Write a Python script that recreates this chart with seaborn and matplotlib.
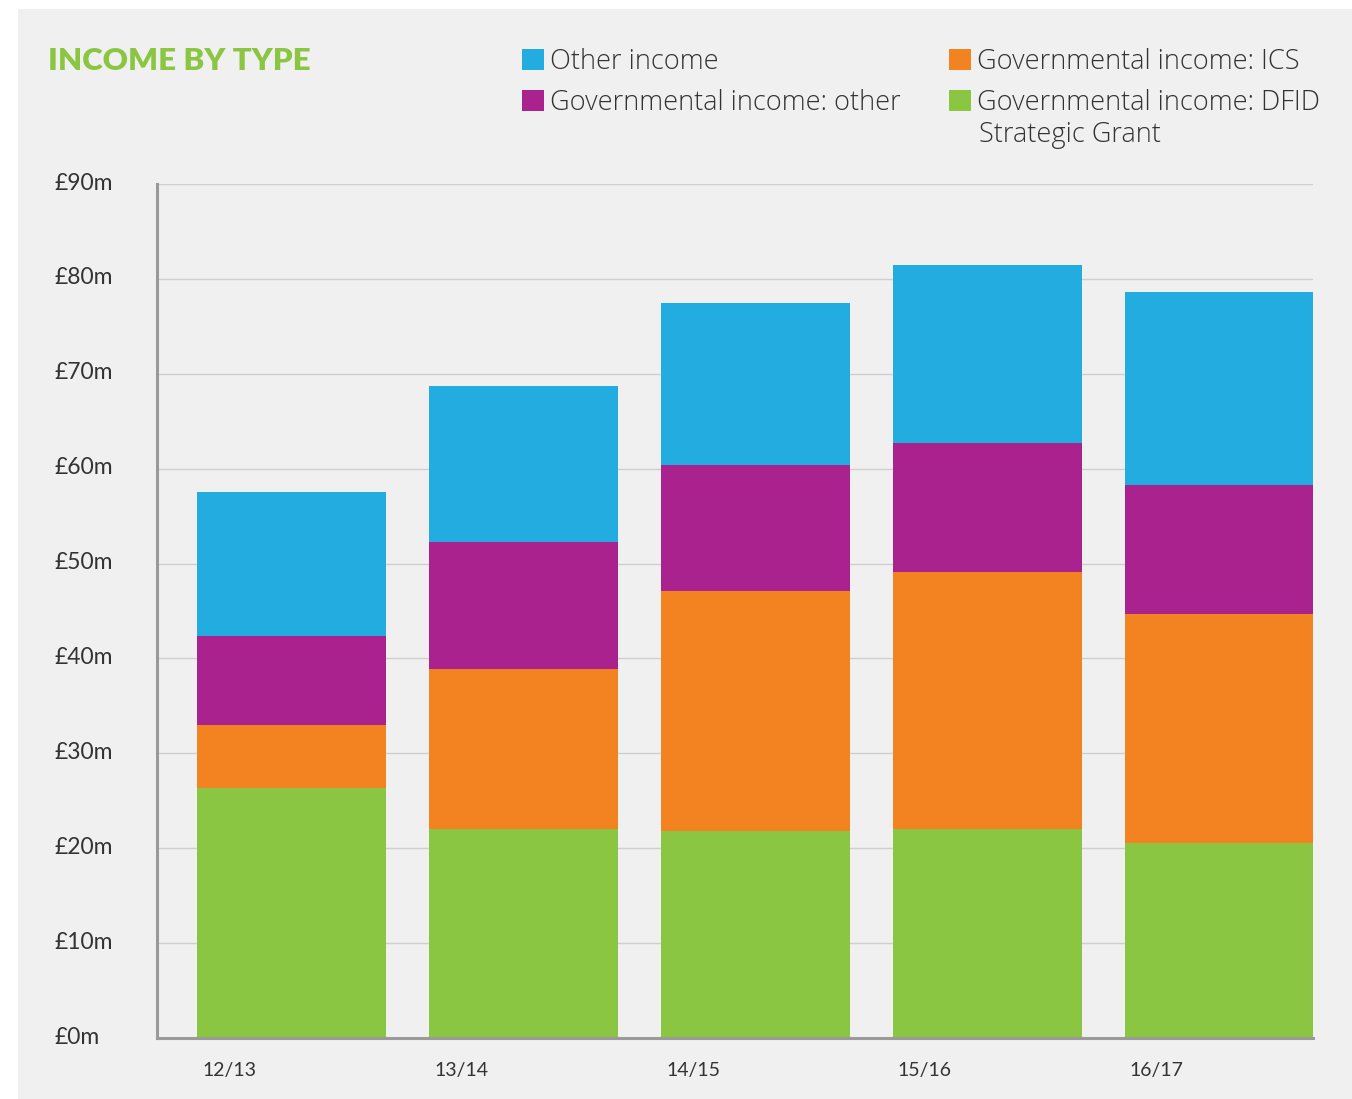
import matplotlib
matplotlib.use("Agg")
import matplotlib.pyplot as plt
import matplotlib.patches as mpatches
import matplotlib.transforms as mtransforms
import seaborn as sns
import pandas as pd
import numpy as np

years = ["12/13", "13/14", "14/15", "15/16", "16/17"]
dfid_grant = [26.3, 22.0, 21.8, 22.0, 20.5]
gov_ics = [6.7, 16.9, 25.3, 27.1, 24.2]
gov_other = [9.4, 13.4, 13.3, 13.6, 13.6]
other_income = [15.1, 16.4, 17.1, 18.8, 20.3]
series_names = ["Governmental income: DFID", "Governmental income: ICS",
                "Governmental income: other", "Other income"]
dfid_second_line = "Strategic Grant"
series_colors = ["#8AC642", "#F38221", "#AA228E", "#22ACE0"]
ytick_vals = [0, 10, 20, 30, 40, 50, 60, 70, 80, 90]
ytick_labels = ["£0m", "£10m", "£20m", "£30m", "£40m", "£50m", "£60m", "£70m", "£80m", "£90m"]

BG = "#F0F0F0"
sns.set_style("white")
plt.rcParams["font.family"] = ["Lato", "DejaVu Sans"]

W, H = 1352, 1099
fig = plt.figure(figsize=(W / 100, H / 100), dpi=100)
fig.patch.set_facecolor("white")
fig.patches.append(mpatches.Rectangle((18 / W, 0), (W - 18) / W, (H - 9) / H,
                                      transform=fig.transFigure, facecolor=BG,
                                      edgecolor="none", zorder=-10))

ax = fig.add_axes([157 / W, (H - 1038) / H, 1156 / W, 854 / H])
ax.set_facecolor(BG)
ax.patch.set_alpha(0)

df = pd.DataFrame({"year": years, "dfid": dfid_grant, "ics": gov_ics,
                   "gov_other": gov_other, "other": other_income})
cum = df[["dfid", "ics", "gov_other", "other"]].cumsum(axis=1)

# draw tallest cumulative first so lower segments overlay
for col, color in zip(["other", "gov_other", "ics", "dfid"], series_colors[::-1]):
    sns.barplot(x=df["year"], y=cum[col], color=color, width=0.815, ax=ax,
                saturation=1, edgecolor="none", zorder=3)

ax.set_xlim(-0.58, 4.405)
ax.set_ylim(0, 90)
ax.set_yticks(ytick_vals)
ax.set_yticklabels(ytick_labels)
ax.yaxis.grid(True, color="#CFCFCF", linewidth=1.0, zorder=0)
ax.set_axisbelow(True)
ax.set_xlabel("")
ax.set_ylabel("")

for s in ["top", "right"]:
    ax.spines[s].set_visible(False)
for s in ["left", "bottom"]:
    ax.spines[s].set_color("#9A9A9A")
    ax.spines[s].set_linewidth(2.2)
    ax.spines[s].set_zorder(4)

ax.tick_params(axis="y", length=0, pad=74, labelsize=16.5, labelcolor="#333333")
up = mtransforms.ScaledTranslation(0, 3 / 100, fig.dpi_scale_trans)
for lbl in ax.get_yticklabels():
    lbl.set_ha("left")
    lbl.set_transform(lbl.get_transform() + up)

ax.set_xticks([i - 0.385 for i in range(len(years))])
ax.set_xticklabels(years)
ax.tick_params(axis="x", length=0, pad=17, labelsize=14, labelcolor="#333333")
for lbl in ax.get_xticklabels():
    lbl.set_ha("left")

# Title
fig.text(48 / W, 1 - 61 / H, "INCOME BY TYPE", color="#8AC642", fontsize=22.5,
         fontweight="heavy", va="center", ha="left", family=["Lato", "DejaVu Sans"])

# Legends (two columns)
def handles(names, colors):
    return [mpatches.Patch(facecolor=c, edgecolor="none", label=n) for n, c in zip(names, colors)]

leg_prop = {"family": ["Open Sans", "DejaVu Sans"], "size": 19.5, "weight": "light"}
leg_kw = dict(frameon=False, handlelength=0.8, handleheight=0.8,
              handletextpad=0.25, labelspacing=0.48, borderaxespad=0, borderpad=0,
              labelcolor="#333333", prop=leg_prop)
leg1 = fig.legend(handles=handles([series_names[3], series_names[2]],
                                  [series_colors[3], series_colors[2]]),
                  loc="upper left", bbox_to_anchor=(522 / W, 1 - 48 / H), **leg_kw)
leg2 = fig.legend(handles=handles([series_names[1], series_names[0]],
                                  [series_colors[1], series_colors[0]]),
                  loc="upper left", bbox_to_anchor=(949 / W, 1 - 48 / H), **leg_kw)
fig.text(979 / W, 1 - 135 / H, dfid_second_line, ha="left", va="center",
         color="#333333", fontproperties=matplotlib.font_manager.FontProperties(**leg_prop))

fig.savefig("out.png", dpi=100, facecolor="white")
